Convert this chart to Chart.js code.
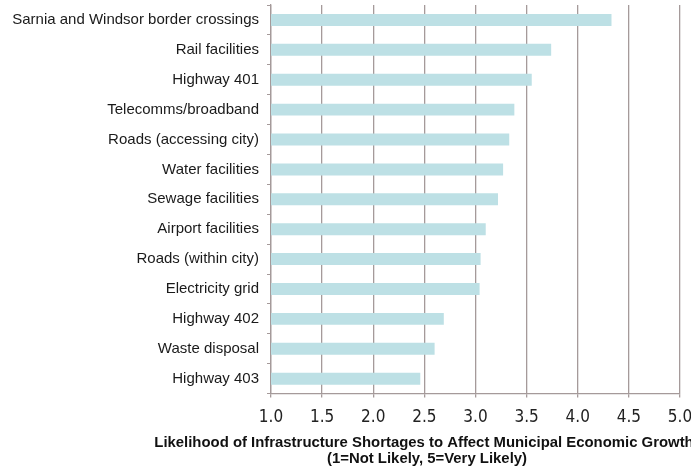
<!DOCTYPE html>
<html>
<head>
<meta charset="utf-8">
<script src="https://cdn.jsdelivr.net/npm/chart.js@4/dist/chart.umd.min.js"></script>
<style>
  html, body { margin: 0; padding: 0; background: #fff; }
  #wrap { width: 691px; height: 468px; position: relative; }
</style>
</head>
<body>
<div id="wrap"><canvas id="canvas"></canvas></div>
<script>
var categories = [
  "Sarnia and Windsor border crossings",
  "Rail facilities",
  "Highway 401",
  "Telecomms/broadband",
  "Roads (accessing city)",
  "Water facilities",
  "Sewage facilities",
  "Airport facilities",
  "Roads (within city)",
  "Electricity grid",
  "Highway 402",
  "Waste disposal",
  "Highway 403"
];
var likelihood = [4.33, 3.74, 3.55, 3.38, 3.33, 3.27, 3.22, 3.10, 3.05, 3.04, 2.69, 2.60, 2.46];
var axisMin = 1, axisMax = 5, axisStep = 0.5;
var titleLines = [
  "Likelihood of Infrastructure Shortages to Affect Municipal Economic Growth",
  "(1=Not Likely, 5=Very Likely)"
];

// axis title sits under the ticks, a bit left of the plot centre like the source
var bottomTitle = {
  id: "bottomTitle",
  afterDraw: function (chart) {
    var ctx = chart.ctx;
    ctx.save();
    ctx.fillStyle = "#111";
    ctx.font = "bold 14.9px 'Liberation Sans', Arial, sans-serif";
    ctx.textAlign = "center";
    ctx.textBaseline = "alphabetic";
    ctx.fillText(titleLines[0], 424, 447);
    ctx.fillText(titleLines[1], 427, 463);
    ctx.restore();
  }
};

var gridCol = "#a59a9a";

var ctx = document.getElementById("canvas").getContext("2d");
var chr = new Chart(ctx, {
  type: "bar",
  data: {
    labels: categories,
    datasets: [{
      data: likelihood,
      backgroundColor: "#bde0e5",
      borderWidth: 0,
      barPercentage: 0.4,
      categoryPercentage: 1.0
    }]
  },
  options: {
    indexAxis: "y",
    responsive: true,
    maintainAspectRatio: false,
    animation: false,
    layout: { padding: { top: 5, right: 11, bottom: 30, left: 0 } },
    plugins: {
      legend: { display: false },
      tooltip: { enabled: false }
    },
    scales: {
      x: {
        min: axisMin,
        max: axisMax,
        ticks: {
          stepSize: axisStep,
          color: "#222",
          padding: 10,
          font: { family: "'Liberation Sans Narrow', 'DejaVu Sans Condensed', sans-serif", size: 17 },
          callback: function (v) { return Number(v).toFixed(1); }
        },
        grid: { color: gridCol, lineWidth: 1.3, tickLength: 4, drawTicks: true },
        border: { color: gridCol, width: 1.3 },
        afterFit: function (scale) { scale.paddingRight = 0; scale.paddingLeft = 0; }
      },
      y: {
        ticks: {
          color: "#1a1a1a",
          padding: 8,
          font: { family: "'Liberation Sans', Arial, sans-serif", size: 15 }
        },
        grid: { offset: true, drawOnChartArea: false, color: gridCol, tickLength: 4 },
        border: { color: gridCol, width: 1.3 },
        afterFit: function (scale) { scale.width = 271; scale.paddingTop = 0; scale.paddingBottom = 0; }
      }
    }
  },
  plugins: [bottomTitle]
});
</script>
</body>
</html>
